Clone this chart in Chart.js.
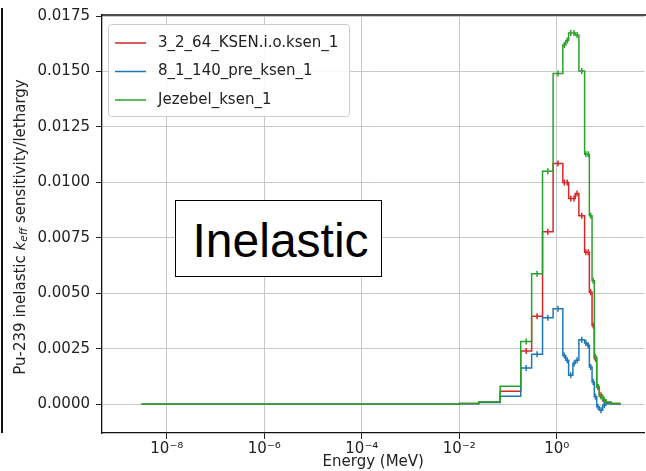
<!DOCTYPE html>
<html><head><meta charset="utf-8">
<script src="https://cdn.jsdelivr.net/npm/chart.js@4.4.1/dist/chart.umd.min.js"></script>
<style>
html,body{margin:0;padding:0;background:#fff;overflow:hidden;width:646px;height:471px;}
#wrap{position:relative;width:646px;height:471px;overflow:hidden;}
canvas{position:absolute;left:0;top:0;}
#edge{position:absolute;left:1px;top:8px;width:2px;height:425px;background:#111;}
#note{position:absolute;left:175px;top:200px;width:207px;height:77px;box-sizing:border-box;border:1.5px solid #000;background:#fff;}
#note span{position:absolute;left:16.5px;top:15.9px;font:48px/48px "Liberation Sans",Arial,sans-serif;color:#000;white-space:nowrap;}
</style></head><body>
<div id="wrap"><canvas id="c" width="650" height="471"></canvas><div id="edge"></div><div id="note"><span>Inelastic</span></div></div>
<script>
// ---- data ----
const seriesNames = ['3_2_64_KSEN.i.o.ksen_1', '8_1_140_pre_ksen_1', 'Jezebel_ksen_1'];
const seriesColors = ['#d62728', '#1f77b4', '#2ca02c'];
// energy group boundaries (MeV)
const energyEdges = [3.03e-9, 0.01, 0.025, 0.069, 0.182, 0.305, 0.51, 0.84, 1.33, 1.53, 1.75, 2.14, 2.39, 2.84, 3.72, 4.19, 4.66, 5.29, 5.89, 6.59, 7.45, 8.73, 10.2, 12.9, 20.6];
// sensitivity per lethargy, one value per group
const ksen3264 = [0, 0.00003, 0.0001, 0.00058, 0.0024, 0.00397, 0.00778, 0.01085, 0.0100, 0.0100, 0.00928, 0.00928, 0.0095, 0.0085, 0.00685, 0.00685, 0.00505, 0.00355, 0.00205, 0.00078, 0.0004, 0.00015, 0.00008, 0.00003];
const pre81140 = [0, 0.00002, 0.00008, 0.00036, 0.00163, 0.00225, 0.0039, 0.0043, 0.0022, 0.00198, 0.0013, 0.00183, 0.00198, 0.0029, 0.00276, 0.00265, 0.00168, 0.001, 0.00033, -0.00012, -0.00027, -0.00005, 0.00002, 0.00001];
const jezebel = [0, 0.00003, 0.0001, 0.00081, 0.00283, 0.00588, 0.0105, 0.01491, 0.0162, 0.0164, 0.01674, 0.01674, 0.01665, 0.01502, 0.01127, 0.01127, 0.0085, 0.00557, 0.00213, 0.00078, 0.00035, 0.0002, 0.0001, 0.00003];
const xTickValues = [1e-8, 1e-6, 1e-4, 1e-2, 1];
const xTickLabels = ['10\u207B\u2078', '10\u207B\u2076', '10\u207B\u2074', '10\u207B\u00B2', '10\u2070'];
const yTickValues = [0, 0.0025, 0.005, 0.0075, 0.01, 0.0125, 0.015, 0.0175];
const xMin = 4.68e-10, xMax = 63;
const yMin = -0.0013, yMax = 0.01755;
const errFirstBin = 4, errLastBin = 21;

const allSeries = [ksen3264, pre81140, jezebel];
function stepPoints(edges, vals) {
  return edges.map((e, i) => ({x: e, y: vals[Math.min(i, vals.length - 1)]}));
}
function centerPoints(edges, vals) {
  const pts = [];
  for (let i = errFirstBin; i <= errLastBin; i++) pts.push({x: Math.sqrt(edges[i] * edges[i + 1]), y: vals[i]});
  return pts;
}
const drawOrder = [2, 1, 0];
const datasets = [];
allSeries.forEach((vals, k) => {
  datasets.push({type: 'line', label: seriesNames[k], data: stepPoints(energyEdges, vals), stepped: true,
    borderColor: seriesColors[k], borderWidth: 1.5, pointRadius: 0, fill: false, order: drawOrder[k] * 2 + 1});
  datasets.push({type: 'scatter', label: seriesNames[k] + ' err', data: centerPoints(energyEdges, vals),
    showLine: false, pointStyle: 'line', rotation: 90, pointRadius: 3, borderColor: seriesColors[k],
    backgroundColor: seriesColors[k], pointBorderWidth: 1.5, order: drawOrder[k] * 2});
});

const FONT = '"DejaVu Sans", sans-serif';
const overlay = {
  id: 'overlay',
  afterDatasetsDraw(chart) {
    const ctx = chart.ctx, a = chart.chartArea;
    ctx.save();
    // top spine
    ctx.strokeStyle = '#111'; ctx.lineWidth = 1.3;
    ctx.beginPath(); ctx.moveTo(a.left, a.top); ctx.lineTo(a.right + 2, a.top); ctx.stroke();
    // legend
    const bx = 108.5, by = 24.5, bw = 241, bh = 92, r = 3;
    ctx.fillStyle = 'rgba(255,255,255,0.85)'; ctx.strokeStyle = '#cccccc'; ctx.lineWidth = 1;
    ctx.beginPath();
    ctx.moveTo(bx + r, by); ctx.lineTo(bx + bw - r, by); ctx.arcTo(bx + bw, by, bx + bw, by + r, r);
    ctx.lineTo(bx + bw, by + bh - r); ctx.arcTo(bx + bw, by + bh, bx + bw - r, by + bh, r);
    ctx.lineTo(bx + r, by + bh); ctx.arcTo(bx, by + bh, bx, by + bh - r, r);
    ctx.lineTo(bx, by + r); ctx.arcTo(bx, by, bx + r, by, r); ctx.closePath();
    ctx.fill(); ctx.stroke();
    ctx.font = '15px ' + FONT; ctx.textBaseline = 'middle'; ctx.textAlign = 'left';
    seriesNames.forEach((n, i) => {
      const y = 43 + i * 28.5;
      ctx.strokeStyle = seriesColors[i]; ctx.lineWidth = 1.5;
      ctx.beginPath(); ctx.moveTo(115, y); ctx.lineTo(146, y); ctx.stroke();
      ctx.fillStyle = '#222'; ctx.fillText(n, 158, y);
    });
    ctx.restore();
  },
  afterDraw(chart) {
    const ctx = chart.ctx, a = chart.chartArea;
    ctx.save();
    const parts = [
      {t: 'Pu-239 inelastic ', f: '15px ' + FONT, dy: 0},
      {t: 'k', f: 'oblique 15px ' + FONT, dy: 0},
      {t: 'eff', f: 'oblique 10.5px ' + FONT, dy: 3.5},
      {t: ' sensitivity/lethargy', f: '15px ' + FONT, dy: 0}
    ];
    let w = 0;
    parts.forEach(p => { ctx.font = p.f; p.w = ctx.measureText(p.t).width; w += p.w; });
    ctx.translate(21, (a.top + a.bottom) / 2 + 3);
    ctx.rotate(-Math.PI / 2);
    ctx.fillStyle = '#222'; ctx.textBaseline = 'middle'; ctx.textAlign = 'left';
    let x = -w / 2;
    parts.forEach(p => { ctx.font = p.f; ctx.fillText(p.t, x, p.dy); x += p.w; });
    ctx.restore();
  }
};

new Chart(document.getElementById('c'), {
  type: 'line',
  data: {datasets},
  options: {
    responsive: false, animation: false, devicePixelRatio: 1,
    layout: {padding: {left: 0, right: 1, top: 15, bottom: 0}},
    plugins: {legend: {display: false}, tooltip: {enabled: false}},
    scales: {
      x: {
        type: 'logarithmic', min: xMin, max: xMax,
        afterBuildTicks: s => { s.ticks = xTickValues.map(v => ({value: v})); },
        afterFit: s => { s.height = 38; },
        ticks: {callback: (v, i) => xTickLabels[i], font: {family: FONT, size: 15}, color: '#222', padding: 1, maxRotation: 0, autoSkip: false},
        grid: {color: '#c8c8c8', lineWidth: 1, tickColor: '#222', tickLength: 6, drawTicks: true},
        border: {color: '#111', width: 1.3},
        title: {display: true, text: 'Energy (MeV)', font: {family: FONT, size: 15}, color: '#222', padding: {top: 0, bottom: 0}}
      },
      y: {
        type: 'linear', min: yMin, max: yMax,
        afterBuildTicks: s => { s.ticks = yTickValues.map(v => ({value: v})); },
        afterFit: s => { s.width = 102; },
        ticks: {callback: v => v.toFixed(4), font: {family: FONT, size: 15}, color: '#222', padding: 6, autoSkip: false},
        grid: {color: '#c8c8c8', lineWidth: 1, tickColor: '#222', tickLength: 6, drawTicks: true},
        border: {color: '#111', width: 1.3}
      }
    }
  },
  plugins: [overlay]
});
</script>
</body></html>
